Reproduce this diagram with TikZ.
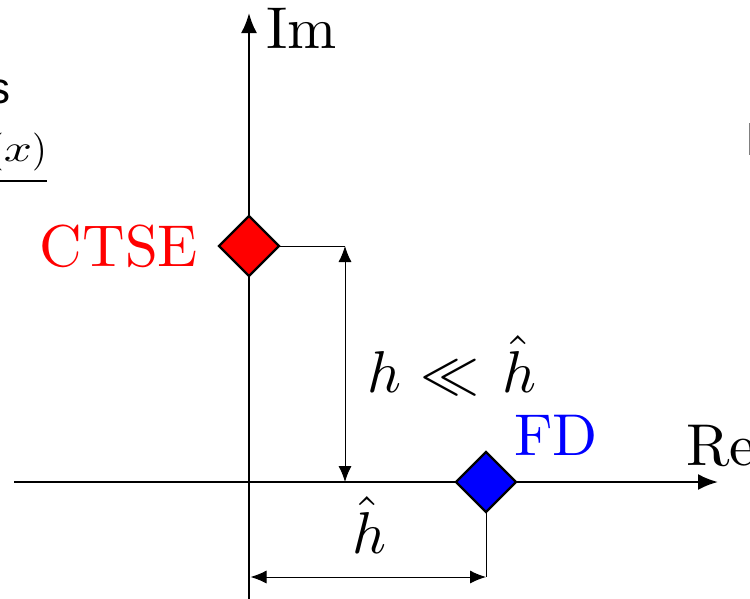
\documentclass[tikz,border=0pt]{standalone}
\usepackage{fontspec}
\usetikzlibrary{arrows.meta,shapes.geometric}
\newfontfamily\sansfrag{Liberation Sans}
\DeclareFontShape{OT1}{cmr}{m}{n}{<->cmr10}{}
\DeclareFontShape{OML}{cmm}{m}{it}{<->cmmi10}{}
\DeclareFontShape{OMS}{cmsy}{m}{n}{<->cmsy10}{}
\tikzset{
  big/.style={font=\fontencoding{OT1}\fontfamily{cmr}\fontsize{59}{70}\selectfont, inner sep=0pt, outer sep=0pt},
  dia/.style={diamond, draw=black, line width=2.4pt, minimum width=60pt, minimum height=60pt, inner sep=0pt, outer sep=0pt},
  axis/.style={line width=2.4pt, -{Latex[length=20pt,width=16pt]}},
  dim/.style={line width=1pt},
  dimarrow/.style={line width=1pt, {Latex[length=16pt,width=13pt]}-{Latex[length=16pt,width=13pt]}},
}
\begin{document}
\begin{tikzpicture}[x=1pt,y=-1pt]
\useasboundingbox (0,0) rectangle (750,598);
\clip (0,0) rectangle (750,598);
% fragments of neighbouring content
\node[anchor=base east, font=\sansfrag\fontsize{44}{50}\selectfont, inner sep=0pt] (fs) at (11,103) {s};
\node[anchor=base east, font=\fontencoding{OT1}\fontfamily{cmr}\fontsize{38}{44}\selectfont, inner sep=0pt] (fx) at (47,161) {$($\scalebox{1.3}[1]{$x$}$)$};
\coordinate (ul1) at (0,181);
\coordinate (ul2) at (47,181);
\draw[line width=2pt] (ul1) -- (ul2);
\fill[gray] (748.5,123) rectangle (750,155);
% axes
\coordinate (xl) at (14,482);
\coordinate (xr) at (718,482);
\coordinate (yb) at (249,600);
\coordinate (yt) at (249,13);
\draw[axis] (xl) -- (xr);
\draw[axis] (yb) -- (yt);
\node[big, anchor=base west] (im) at (266,48) {Im};
\node[big, anchor=base west] (re) at (686,465) {Re};
% markers
\node[dia, fill=red] (ctse) at (249,246) {};
\node[dia, fill=blue] (fd) at (486,482) {};
\node[big, anchor=base east, text=red] (ctsel) at (198,266) {CTSE};
\node[big, anchor=base west, text=blue] (fdl) at (514,455) {FD};
% vertical dimension
\coordinate (c1) at (345,246);
\coordinate (c2) at (345,482);
\draw[dim] (ctse.east) -- (c1);
\draw[dimarrow] (c1) -- (c2);
\node[big, anchor=base west] (hl) at (367,392) {$h \mkern1mu\ll\mkern2mu \hat{h}$};
% horizontal dimension
\coordinate (d1) at (486,577);
\coordinate (d0) at (250.5,577);
\draw[dim] (fd.south) -- (d1);
\draw[dimarrow] (d0) -- (d1);
\node[big, anchor=base] (hh) at (369,553) {$\hat{h}$};
\end{tikzpicture}
\end{document}
